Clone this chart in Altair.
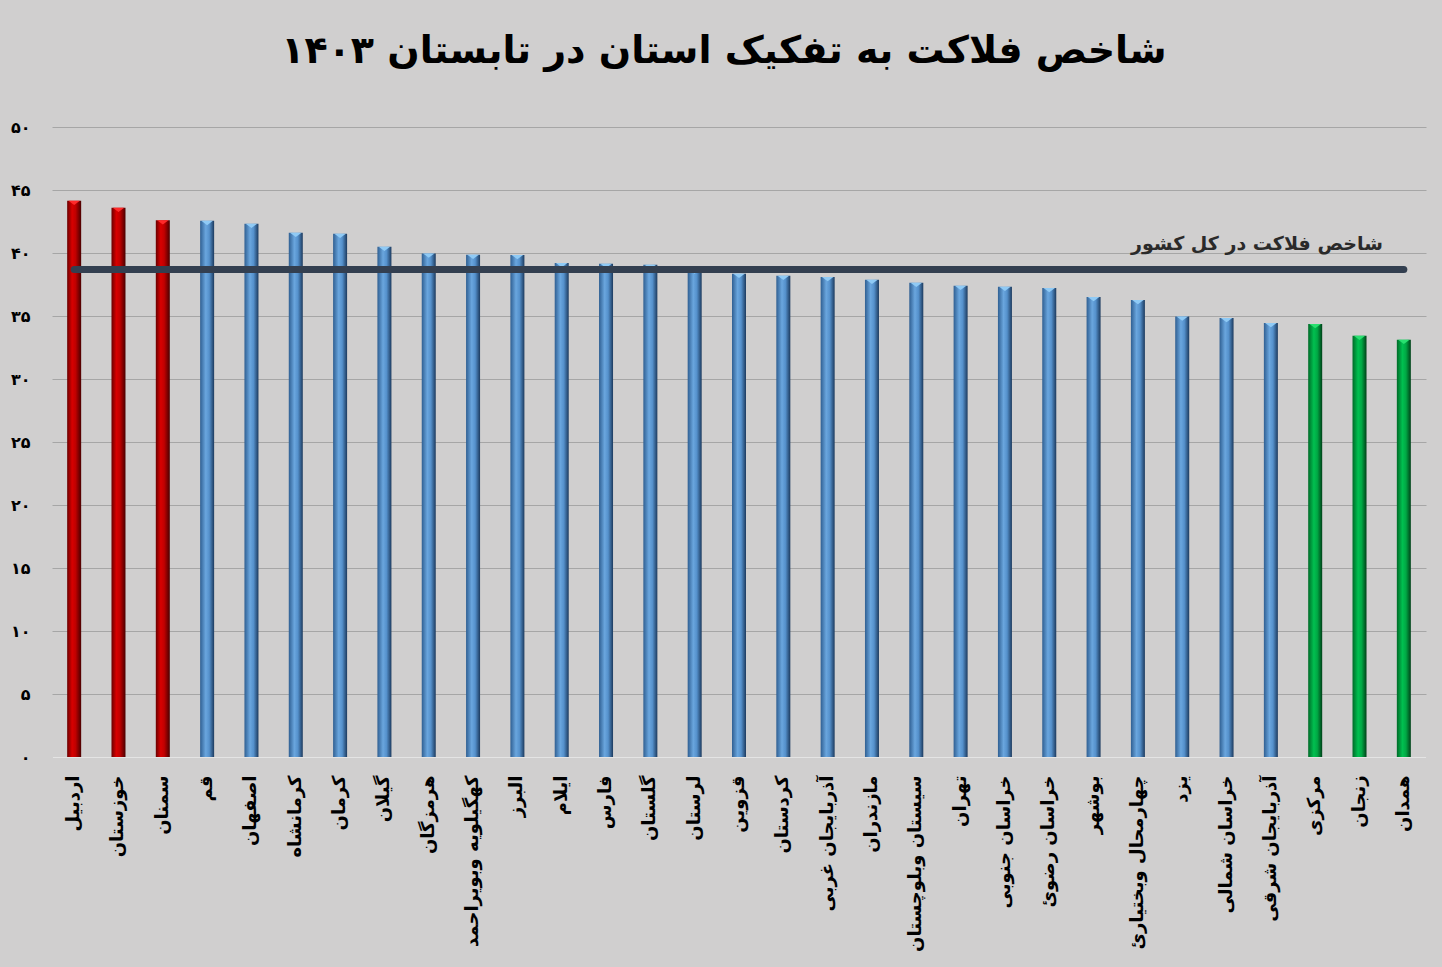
import json
import altair as alt
import pandas as pd

# ---------------- data ----------------
provinces = [
    "اردبیل", "خوزستان", "سمنان", "قم", "اصفهان", "کرمانشاه", "کرمان", "گیلان",
    "هرمزگان", "کهگیلویه وبویراحمد", "البرز", "ایلام", "فارس", "گلستان", "لرستان",
    "قزوین", "کردستان", "آذربایجان غربی", "مازندران", "سیستان وبلوچستان", "تهران",
    "خراسان جنوبی", "خراسان رضویٔ", "بوشهر", "چهارمحال وبختیاریٔ", "یزد",
    "خراسان شمالی", "آذربایجان شرقی", "مرکزی", "زنجان", "همدان",
]
misery_index = [
    44.15, 43.6, 42.6, 42.55, 42.33, 41.61, 41.53, 40.5,
    39.97, 39.87, 39.85, 39.2, 39.15, 39.07, 38.7,
    38.36, 38.2, 38.1, 37.88, 37.64, 37.4,
    37.33, 37.22, 36.51, 36.27, 34.97,
    34.84, 34.44, 34.37, 33.44, 33.12,
]
groups = ["top"] * 3 + ["mid"] * 25 + ["bottom"] * 3
national_value = 38.7
national_label = "شاخص فلاکت در کل کشور"
title_text = "شاخص فلاکت به تفکیک استان در تابستان ۱۴۰۳"
y_ticks = [0, 5, 10, 15, 20, 25, 30, 35, 40, 45, 50]
y_tick_labels = ["۰", "۵", "۱۰", "۱۵", "۲۰", "۲۵", "۳۰", "۳۵", "۴۰", "۴۵", "۵۰"]

df = pd.DataFrame({"province": provinces, "value": misery_index, "group": groups})
df_line = pd.DataFrame({
    "province": [provinces[0], provinces[-1]],
    "value": [national_value, national_value],
})
df_label = pd.DataFrame({"province": [provinces[-1]], "value": [national_value], "label": [national_label]})

FONT = "DejaVu Sans"

def grad(stops):
    return alt.Gradient(
        gradient="linear", x1=0, x2=1, y1=0, y2=0,
        stops=[alt.GradientStop(color=c, offset=o) for o, c in stops],
    )

palette = {
    "top": (grad([(0, "#6a0000"), (0.35, "#d80000"), (0.6, "#c00000"), (1, "#4a0000")]), "#ff2a2a"),
    "mid": (grad([(0, "#2f5f92"), (0.4, "#6aa6de"), (0.65, "#5591cc"), (1, "#1c3a5e")]), "#8fcaf5"),
    "bottom": (grad([(0, "#006a28"), (0.4, "#00c050"), (0.65, "#00a844"), (1, "#004018")]), "#29e070"),
}

x_enc = alt.X(
    "province:N", sort=provinces,
    scale=alt.Scale(paddingInner=0.1, paddingOuter=0.05),
    axis=alt.Axis(
        title=None, labelAngle=-90, labelFont=FONT, labelFontSize=18,
        labelFontWeight="bold", labelColor="#000000", labelPadding=18,
        labelLimit=400, labelOverlap=False, ticks=False, grid=False,
        domainColor="#e4e4e4", domainWidth=1,
    ),
)
label_expr = json.dumps(y_tick_labels, ensure_ascii=False) + "[round(datum.value / 5)]"
y_enc = alt.Y(
    "value:Q",
    scale=alt.Scale(domain=[0, 50], nice=False),
    axis=alt.Axis(
        title=None, values=y_ticks, labelExpr=label_expr, labelFont=FONT,
        labelFontSize=16, labelFontWeight="bold", labelColor="#000000",
        labelPadding=22, domain=False, ticks=False, grid=True,
        gridColor="#a6a6a6", gridWidth=1,
    ),
)

base = alt.Chart(df)
layers = []
for g, (fill, cap) in palette.items():
    layers.append(
        base.transform_filter(alt.datum.group == g)
        .mark_bar(size=14, color=fill)
        .encode(x=x_enc, y=y_enc)
    )
for g, (fill, cap) in palette.items():
    layers.append(
        base.transform_filter(alt.datum.group == g)
        .mark_point(shape="M-1,0L1,0L0,0.75Z", size=130, filled=True, color=cap, opacity=1)
        .encode(x=x_enc, y=y_enc)
    )

line = alt.Chart(df_line).mark_line(
    color="#333f50", strokeWidth=7, strokeCap="round"
).encode(x=x_enc, y=y_enc)

label = alt.Chart(df_label).mark_text(
    align="right", baseline="alphabetic", dx=-21, dy=-19,
    font=FONT, fontSize=19, fontWeight="bold", color="#2a2a2a",
).encode(x=x_enc, y=y_enc, text="label:N")

chart = alt.layer(*layers, line, label).properties(
    width=1374,
    height=630,
    background="#d0cfcf",
    padding={"left": 52, "top": 127, "right": 16, "bottom": 210},
    autosize=alt.AutoSizeParams(type="none"),
    title=alt.TitleParams(
        text=title_text, font=FONT, fontSize=38, fontWeight="bold",
        color="#000000", anchor="middle", offset=48, dx=-15,
    ),
).configure_view(stroke="transparent")

chart.save("out.html", embed_options={"renderer": "svg", "actions": False})
